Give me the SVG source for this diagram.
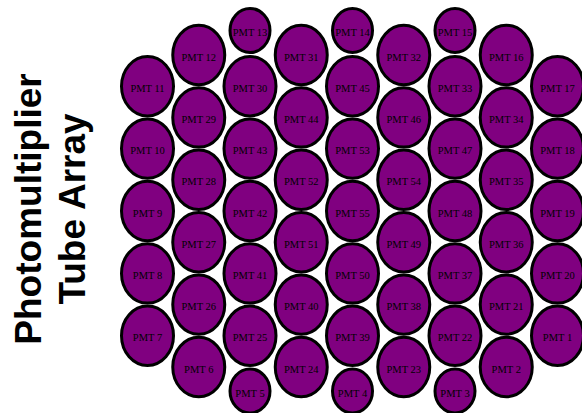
<svg xmlns="http://www.w3.org/2000/svg" width="582" height="413" viewBox="0 0 582 413">
<style>
.p ellipse{fill:#800080;stroke:#000;stroke-width:3}
.p text{font-family:"Liberation Serif","Times New Roman",serif;font-size:10.5px;fill:#000;text-anchor:middle}
.title{font-family:"Liberation Sans",Arial,sans-serif;font-weight:bold;font-size:37px;fill:#000;text-anchor:middle}
</style>
<rect width="582" height="413" fill="#fff"/>
<text class="title" transform="translate(0,209) rotate(-90)"><tspan x="0" y="41">Photomultiplier</tspan><tspan x="0" y="85">Tube Array</tspan></text>
<g id="connectors"/>
<g class="p">
<g id="pmt11"><ellipse cx="147.5" cy="86.2" rx="26" ry="29.7"/><text x="147.5" y="91.7">PMT 11</text></g>
<g id="pmt10"><ellipse cx="147.5" cy="148.6" rx="26" ry="29.7"/><text x="147.5" y="154.1">PMT 10</text></g>
<g id="pmt9"><ellipse cx="147.5" cy="211" rx="26" ry="29.7"/><text x="147.5" y="216.5">PMT 9</text></g>
<g id="pmt8"><ellipse cx="147.5" cy="273.4" rx="26" ry="29.7"/><text x="147.5" y="278.9">PMT 8</text></g>
<g id="pmt7"><ellipse cx="147.5" cy="335.8" rx="26" ry="29.7"/><text x="147.5" y="341.3">PMT 7</text></g>

<g id="pmt12"><ellipse cx="198.75" cy="55" rx="26" ry="29.7"/><text x="198.75" y="60.5">PMT 12</text></g>
<g id="pmt29"><ellipse cx="198.75" cy="117.4" rx="26" ry="29.7"/><text x="198.75" y="122.9">PMT 29</text></g>
<g id="pmt28"><ellipse cx="198.75" cy="179.8" rx="26" ry="29.7"/><text x="198.75" y="185.3">PMT 28</text></g>
<g id="pmt27"><ellipse cx="198.75" cy="242.2" rx="26" ry="29.7"/><text x="198.75" y="247.7">PMT 27</text></g>
<g id="pmt26"><ellipse cx="198.75" cy="304.6" rx="26" ry="29.7"/><text x="198.75" y="310.1">PMT 26</text></g>
<g id="pmt6"><ellipse cx="198.75" cy="367" rx="26" ry="29.7"/><text x="198.75" y="372.5">PMT 6</text></g>

<g id="pmt13"><ellipse cx="250" cy="30.5" rx="20" ry="22"/><text x="250" y="36">PMT 13</text></g>
<g id="pmt30"><ellipse cx="250" cy="86.2" rx="26" ry="29.7"/><text x="250" y="91.7">PMT 30</text></g>
<g id="pmt43"><ellipse cx="250" cy="148.6" rx="26" ry="29.7"/><text x="250" y="154.1">PMT 43</text></g>
<g id="pmt42"><ellipse cx="250" cy="211" rx="26" ry="29.7"/><text x="250" y="216.5">PMT 42</text></g>
<g id="pmt41"><ellipse cx="250" cy="273.4" rx="26" ry="29.7"/><text x="250" y="278.9">PMT 41</text></g>
<g id="pmt25"><ellipse cx="250" cy="335.8" rx="26" ry="29.7"/><text x="250" y="341.3">PMT 25</text></g>
<g id="pmt5"><ellipse cx="250" cy="391" rx="20" ry="22"/><text x="250" y="396.5">PMT 5</text></g>

<g id="pmt31"><ellipse cx="301.25" cy="55" rx="26" ry="29.7"/><text x="301.25" y="60.5">PMT 31</text></g>
<g id="pmt44"><ellipse cx="301.25" cy="117.4" rx="26" ry="29.7"/><text x="301.25" y="122.9">PMT 44</text></g>
<g id="pmt52"><ellipse cx="301.25" cy="179.8" rx="26" ry="29.7"/><text x="301.25" y="185.3">PMT 52</text></g>
<g id="pmt51"><ellipse cx="301.25" cy="242.2" rx="26" ry="29.7"/><text x="301.25" y="247.7">PMT 51</text></g>
<g id="pmt40"><ellipse cx="301.25" cy="304.6" rx="26" ry="29.7"/><text x="301.25" y="310.1">PMT 40</text></g>
<g id="pmt24"><ellipse cx="301.25" cy="367" rx="26" ry="29.7"/><text x="301.25" y="372.5">PMT 24</text></g>

<g id="pmt14"><ellipse cx="352.5" cy="30.5" rx="20" ry="22"/><text x="352.5" y="36">PMT 14</text></g>
<g id="pmt45"><ellipse cx="352.5" cy="86.2" rx="26" ry="29.7"/><text x="352.5" y="91.7">PMT 45</text></g>
<g id="pmt53"><ellipse cx="352.5" cy="148.6" rx="26" ry="29.7"/><text x="352.5" y="154.1">PMT 53</text></g>
<g id="pmt55"><ellipse cx="352.5" cy="211" rx="26" ry="29.7"/><text x="352.5" y="216.5">PMT 55</text></g>
<g id="pmt50"><ellipse cx="352.5" cy="273.4" rx="26" ry="29.7"/><text x="352.5" y="278.9">PMT 50</text></g>
<g id="pmt39"><ellipse cx="352.5" cy="335.8" rx="26" ry="29.7"/><text x="352.5" y="341.3">PMT 39</text></g>
<g id="pmt4"><ellipse cx="352.5" cy="391" rx="20" ry="22"/><text x="352.5" y="396.5">PMT 4</text></g>

<g id="pmt32"><ellipse cx="403.75" cy="55" rx="26" ry="29.7"/><text x="403.75" y="60.5">PMT 32</text></g>
<g id="pmt46"><ellipse cx="403.75" cy="117.4" rx="26" ry="29.7"/><text x="403.75" y="122.9">PMT 46</text></g>
<g id="pmt54"><ellipse cx="403.75" cy="179.8" rx="26" ry="29.7"/><text x="403.75" y="185.3">PMT 54</text></g>
<g id="pmt49"><ellipse cx="403.75" cy="242.2" rx="26" ry="29.7"/><text x="403.75" y="247.7">PMT 49</text></g>
<g id="pmt38"><ellipse cx="403.75" cy="304.6" rx="26" ry="29.7"/><text x="403.75" y="310.1">PMT 38</text></g>
<g id="pmt23"><ellipse cx="403.75" cy="367" rx="26" ry="29.7"/><text x="403.75" y="372.5">PMT 23</text></g>

<g id="pmt15"><ellipse cx="455" cy="30.5" rx="20" ry="22"/><text x="455" y="36">PMT 15</text></g>
<g id="pmt33"><ellipse cx="455" cy="86.2" rx="26" ry="29.7"/><text x="455" y="91.7">PMT 33</text></g>
<g id="pmt47"><ellipse cx="455" cy="148.6" rx="26" ry="29.7"/><text x="455" y="154.1">PMT 47</text></g>
<g id="pmt48"><ellipse cx="455" cy="211" rx="26" ry="29.7"/><text x="455" y="216.5">PMT 48</text></g>
<g id="pmt37"><ellipse cx="455" cy="273.4" rx="26" ry="29.7"/><text x="455" y="278.9">PMT 37</text></g>
<g id="pmt22"><ellipse cx="455" cy="335.8" rx="26" ry="29.7"/><text x="455" y="341.3">PMT 22</text></g>
<g id="pmt3"><ellipse cx="455" cy="391" rx="20" ry="22"/><text x="455" y="396.5">PMT 3</text></g>

<g id="pmt16"><ellipse cx="506.25" cy="55" rx="26" ry="29.7"/><text x="506.25" y="60.5">PMT 16</text></g>
<g id="pmt34"><ellipse cx="506.25" cy="117.4" rx="26" ry="29.7"/><text x="506.25" y="122.9">PMT 34</text></g>
<g id="pmt35"><ellipse cx="506.25" cy="179.8" rx="26" ry="29.7"/><text x="506.25" y="185.3">PMT 35</text></g>
<g id="pmt36"><ellipse cx="506.25" cy="242.2" rx="26" ry="29.7"/><text x="506.25" y="247.7">PMT 36</text></g>
<g id="pmt21"><ellipse cx="506.25" cy="304.6" rx="26" ry="29.7"/><text x="506.25" y="310.1">PMT 21</text></g>
<g id="pmt2"><ellipse cx="506.25" cy="367" rx="26" ry="29.7"/><text x="506.25" y="372.5">PMT 2</text></g>

<g id="pmt17"><ellipse cx="557.5" cy="86.2" rx="26" ry="29.7"/><text x="557.5" y="91.7">PMT 17</text></g>
<g id="pmt18"><ellipse cx="557.5" cy="148.6" rx="26" ry="29.7"/><text x="557.5" y="154.1">PMT 18</text></g>
<g id="pmt19"><ellipse cx="557.5" cy="211" rx="26" ry="29.7"/><text x="557.5" y="216.5">PMT 19</text></g>
<g id="pmt20"><ellipse cx="557.5" cy="273.4" rx="26" ry="29.7"/><text x="557.5" y="278.9">PMT 20</text></g>
<g id="pmt1"><ellipse cx="557.5" cy="335.8" rx="26" ry="29.7"/><text x="557.5" y="341.3">PMT 1</text></g>
</g>
</svg>
